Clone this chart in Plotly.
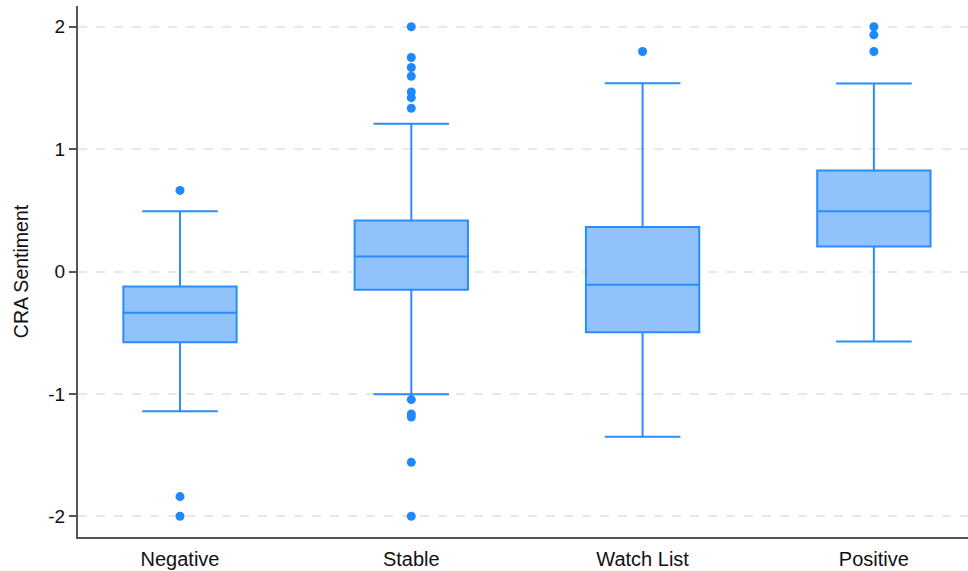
import plotly.graph_objects as go

# Rating-outlook categories and box statistics of CRA sentiment
categories = ["Negative", "Stable", "Watch List", "Positive"]
q1 = [-0.578, -0.150, -0.497, 0.205]
median = [-0.338, 0.123, -0.109, 0.493]
q3 = [-0.123, 0.417, 0.363, 0.826]
lower_whisker = [-1.143, -1.004, -1.350, -0.573]
upper_whisker = [0.493, 1.208, 1.538, 1.536]

# Points beyond the whiskers, per category
outliers = {
    "Negative": [0.663, -1.84, -2.0],
    "Stable": [2.0, 1.749, 1.667, 1.596, 1.467, 1.421, 1.334,
               -1.047, -1.165, -1.19, -1.56, -2.0],
    "Watch List": [1.798],
    "Positive": [2.0, 1.934, 1.798],
}

y_ticks = [-2, -1, 0, 1, 2]

line_color = "rgb(42,141,255)"
fill_color = "rgb(145,194,251)"
dot_color = "rgb(30,136,255)"
font_family = "Arial, Liberation Sans, sans-serif"

fig = go.Figure()

fig.add_trace(go.Box(
    x=categories,
    q1=q1,
    median=median,
    q3=q3,
    lowerfence=lower_whisker,
    upperfence=upper_whisker,
    width=0.49,
    whiskerwidth=0.667,
    fillcolor=fill_color,
    line=dict(color=line_color, width=2),
    boxpoints=False,
    hoverinfo="skip",
    showlegend=False,
))

ox, oy = [], []
for cat in categories:
    for v in outliers[cat]:
        ox.append(cat)
        oy.append(v)

fig.add_trace(go.Scatter(
    x=ox, y=oy, mode="markers",
    marker=dict(color=dot_color, size=9, line=dict(width=0)),
    showlegend=False,
))

fig.update_layout(
    width=968, height=571,
    margin=dict(l=78, r=0, t=6, b=34),
    plot_bgcolor="white",
    paper_bgcolor="white",
    font=dict(family=font_family, size=19, color="#111"),
)

fig.update_xaxes(
    type="category",
    categoryorder="array",
    categoryarray=categories,
    range=[-0.441, 3.407],
    showgrid=False,
    showline=True, linecolor="#555", linewidth=2,
    ticks="", tickfont=dict(size=20, color="#111"),
    ticklabelstandoff=3,
    zeroline=False,
)

fig.update_yaxes(
    range=[-2.17, 2.17],
    tickvals=y_ticks,
    ticktext=[str(t) for t in y_ticks],
    showgrid=True, gridcolor="#e8e8e8", griddash="dash", gridwidth=1.5,
    showline=True, linecolor="#555", linewidth=2,
    ticks="outside", ticklen=7, tickcolor="#555", tickwidth=1.5,
    tickfont=dict(size=19, color="#111"),
    zeroline=False,
    title=dict(text="CRA Sentiment", font=dict(size=19.5, color="#111"), standoff=14),
)

fig.write_html("out.html")
